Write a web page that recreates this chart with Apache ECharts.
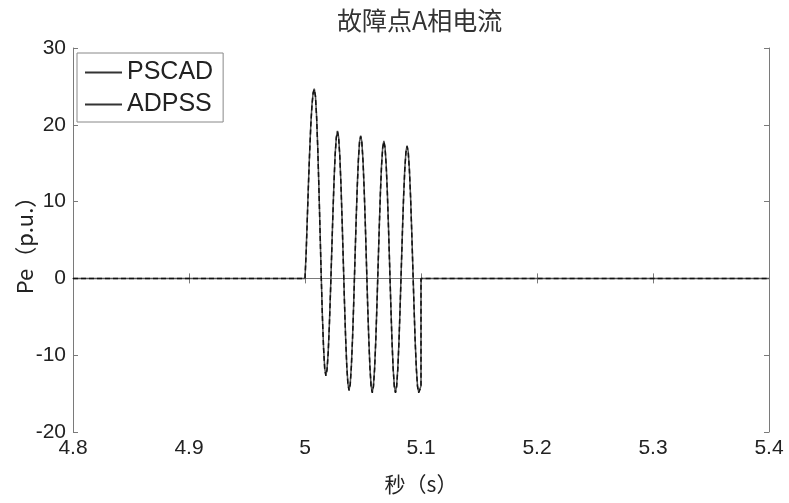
<!DOCTYPE html>
<html>
<head>
<meta charset="utf-8">
<script src="https://cdn.jsdelivr.net/npm/echarts@6/dist/echarts.min.js"></script>
<style>
  html, body { margin: 0; padding: 0; background: #fff; }
  #chart { width: 789px; height: 503px; }
</style>
</head>
<body>
<div id="chart"></div>
<script>
// Phase-A current at the fault point, two simulators compared.
const xTicks = [4.8, 4.9, 5.0, 5.1, 5.2, 5.3, 5.4];
const yTicks = [-20, -10, 0, 10, 20, 30];

// Pre-fault and post-fault segments (current stays at zero)
const preTime = [4.8, 4.85, 4.9, 4.95, 5.0];
const preVal = [0, 0, 0, 0, 0];
const postTime = [5.1, 5.15, 5.2, 5.25, 5.3, 5.35, 5.4];
const postVal = [0, 0, 0, 0, 0, 0, 0];

// Fault window 5.000 s .. 5.100 s, sampled every 1 ms
const faultStart = 5.0;
const sampleStep = 0.001;
const pscadFault = [
  0, 3.5, 8.0, 12.5, 16.5, 20.0, 22.6, 24.2, 24.7, 23.8,
  21.1, 17.0, 11.8, 6.1, 0.3, -4.9, -9.0, -11.7, -12.6, -11.8,
  -9.6, -6.0, -1.6, 3.3, 8.2, 12.6, 16.2, 18.4, 19.2, 18.4,
  16.0, 12.3, 7.6, 2.4, -2.9, -7.6, -11.3, -13.7, -14.5, -13.7,
  -11.3, -7.7, -3.1, 2.1, 7.2, 11.8, 15.4, 17.8, 18.6, 17.8,
  15.4, 11.7, 7.1, 1.9, -3.3, -7.9, -11.6, -14.0, -14.8, -14.0,
  -11.7, -8.1, -3.5, 1.6, 6.6, 11.2, 14.8, 17.1, 17.9, 17.1,
  14.8, 11.2, 6.6, 1.6, -3.5, -8.1, -11.7, -14.0, -14.8, -14.0,
  -11.7, -8.2, -3.7, 1.3, 6.2, 10.7, 14.2, 16.5, 17.3, 16.5,
  14.2, 10.7, 6.2, 1.3, -3.7, -8.2, -11.7, -14.0, -14.8, -14.6,
  -14.0
];
const adpssFault = [
  0, 3.3, 7.8, 12.3, 16.4, 19.9, 22.5, 24.1, 24.6, 23.7,
  21.0, 16.9, 11.7, 6.0, 0.2, -5.0, -9.1, -11.8, -12.7, -11.9,
  -9.7, -6.1, -1.7, 3.2, 8.1, 12.5, 16.1, 18.3, 19.1, 18.3,
  15.9, 12.2, 7.5, 2.3, -3.0, -7.7, -11.4, -13.8, -14.6, -13.8,
  -11.4, -7.8, -3.2, 2.0, 7.1, 11.7, 15.3, 17.7, 18.5, 17.7,
  15.3, 11.6, 7.0, 1.8, -3.4, -8.0, -11.7, -14.1, -14.9, -14.1,
  -11.8, -8.2, -3.6, 1.5, 6.5, 11.1, 14.7, 17.0, 17.8, 17.0,
  14.7, 11.1, 6.5, 1.5, -3.6, -8.2, -11.8, -14.1, -14.9, -14.1,
  -11.8, -8.3, -3.8, 1.2, 6.1, 10.6, 14.1, 16.4, 17.2, 16.4,
  14.1, 10.6, 6.1, 1.2, -3.8, -8.3, -11.8, -14.1, -14.9, -14.7,
  -14.1
];

function buildSeries(fault) {
  const pts = [];
  for (let i = 0; i < preTime.length; i++) pts.push([preTime[i], preVal[i]]);
  for (let i = 0; i < fault.length; i++) {
    pts.push([+(faultStart + i * sampleStep).toFixed(3), fault[i]]);
  }
  for (let i = 0; i < postTime.length; i++) pts.push([postTime[i], postVal[i]]);
  return pts;
}

const FONT = '"Liberation Sans", Arial, sans-serif';
const CJK = '"Noto Sans CJK SC", "Liberation Sans", sans-serif';
const axisGrey = '#7a7a7a';
const textColor = '#222';

const chart = echarts.init(document.getElementById('chart'), null, { renderer: 'canvas' });

const baseAxisLine = { show: true, lineStyle: { color: axisGrey, width: 1 } };
const tickInside = { show: true, inside: true, length: 5, lineStyle: { color: axisGrey } };

chart.setOption({
  backgroundColor: '#ffffff',
  animation: false,
  title: {
    text: '故障点A相电流',
    left: 332,
    top: 3,
    textStyle: { fontFamily: CJK, fontSize: 25, fontWeight: 'normal', color: '#333' }
  },
  legend: {
    orient: 'vertical',
    left: 77,
    top: 53,
    padding: [7, 10, 5, 8],
    itemGap: 7,
    itemWidth: 37,
    itemHeight: 2,
    icon: 'rect',
    borderColor: '#888',
    borderWidth: 1,
    borderRadius: 0,
    textStyle: { fontFamily: FONT, fontSize: 25, color: textColor },
    data: [
      { name: 'PSCAD', itemStyle: { color: '#333' } },
      { name: 'ADPSS', itemStyle: { color: '#333' } }
    ]
  },
  grid: { left: 73, right: 20, top: 48, bottom: 71, show: false, outerBoundsMode: 'none' },
  xAxis: [
    {
      type: 'value',
      min: xTicks[0],
      max: xTicks[xTicks.length - 1],
      interval: 0.1,
      position: 'bottom',
      name: '秒（s）',
      nameLocation: 'middle',
      nameGap: 42,
      nameMoveOverlap: false,
      nameTextStyle: { fontFamily: CJK, fontSize: 21, color: textColor },
      axisLine: baseAxisLine,
      axisTick: tickInside,
      splitLine: { show: false },
      axisLabel: {
        fontFamily: FONT, fontSize: 21, color: textColor, margin: 6,
        formatter: v => {
          const t = xTicks.find(x => Math.abs(x - v) < 1e-6);
          return t === undefined ? '' : String(t);
        }
      }
    },
    {
      type: 'value',
      min: xTicks[0],
      max: xTicks[xTicks.length - 1],
      interval: 0.1,
      position: 'top',
      axisLine: baseAxisLine,
      axisTick: tickInside,
      axisLabel: { show: false },
      splitLine: { show: false }
    }
  ],
  yAxis: [
    {
      type: 'value',
      min: yTicks[0],
      max: yTicks[yTicks.length - 1],
      interval: 10,
      position: 'left',
      name: 'Pe（p.u.）',
      nameLocation: 'middle',
      nameGap: 37,
      nameMoveOverlap: false,
      nameRotate: 90,
      nameTextStyle: { fontFamily: CJK, fontSize: 22, color: textColor },
      axisLine: baseAxisLine,
      axisTick: tickInside,
      splitLine: { show: false },
      axisLabel: { fontFamily: FONT, fontSize: 21, color: textColor, margin: 7 }
    },
    {
      type: 'value',
      min: yTicks[0],
      max: yTicks[yTicks.length - 1],
      interval: 10,
      position: 'right',
      axisLine: baseAxisLine,
      axisTick: tickInside,
      axisLabel: { show: false },
      splitLine: { show: false }
    }
  ],
  series: [
    {
      name: 'PSCAD',
      type: 'line',
      xAxisIndex: 0,
      yAxisIndex: 0,
      showSymbol: false,
      symbol: 'none',
      lineStyle: { color: '#555', width: 1.5, type: 'solid' },
      data: buildSeries(pscadFault)
    },
    {
      name: 'ADPSS',
      type: 'line',
      xAxisIndex: 0,
      yAxisIndex: 0,
      showSymbol: false,
      symbol: 'none',
      lineStyle: { color: '#111', width: 1.5, type: [5, 3] },
      data: buildSeries(adpssFault)
    }
  ]
});
</script>
</body>
</html>
